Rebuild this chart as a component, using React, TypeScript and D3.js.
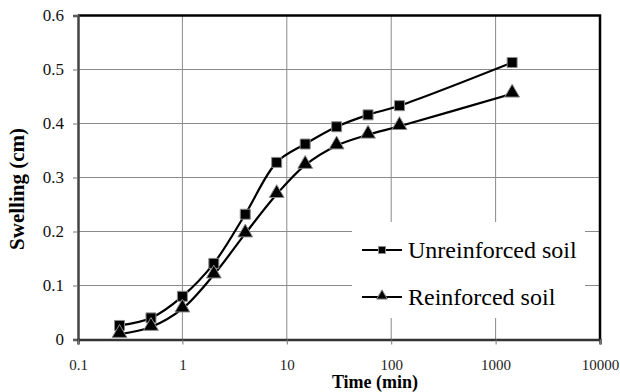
import React, { useEffect, useRef } from "react";
import * as d3 from "d3";

// time in minutes (log scale)
const times = [0.25, 0.5, 1, 2, 4, 8, 15, 30, 60, 120, 1440];
const unreinforced = [0.026, 0.04, 0.08, 0.141, 0.232, 0.328, 0.362, 0.394, 0.416, 0.433, 0.513];
const reinforced = [0.01, 0.023, 0.057, 0.12, 0.196, 0.269, 0.323, 0.359, 0.379, 0.395, 0.455];
const xTicks = [0.1, 1, 10, 100, 1000, 10000];
const yTicks = [0, 0.1, 0.2, 0.3, 0.4, 0.5, 0.6];
const seriesNames = ["Unreinforced soil", "Reinforced soil"];

const App = () => {
  const svgRef = useRef<SVGSVGElement>(null);

  useEffect(() => {
    const width = 620;
    const height = 392;
    const margin = { top: 15.5, right: 20, bottom: 52.5, left: 78 };
    const serif = "Liberation Serif, DejaVu Serif, Times New Roman, serif";

    const svg = d3.select(svgRef.current);
    svg.selectAll("*").remove();

    const x = d3
      .scaleLog()
      .domain([0.1, 10000])
      .range([margin.left, width - margin.right]);
    const y = d3
      .scaleLinear()
      .domain([0, 0.6])
      .range([height - margin.bottom, margin.top]);

    const x0 = margin.left;
    const x1 = width - margin.right;
    const y0 = height - margin.bottom;
    const y1 = margin.top;

    // gridlines
    svg
      .append("g")
      .selectAll("line")
      .data(yTicks.slice(1, -1))
      .enter()
      .append("line")
      .attr("x1", x0)
      .attr("x2", x1)
      .attr("y1", (d) => y(d))
      .attr("y2", (d) => y(d))
      .attr("stroke", "#8a8a8a")
      .attr("stroke-width", 1);
    svg
      .append("g")
      .selectAll("line")
      .data(xTicks.slice(1, -1))
      .enter()
      .append("line")
      .attr("x1", (d) => x(d))
      .attr("x2", (d) => x(d))
      .attr("y1", y1)
      .attr("y2", y0)
      .attr("stroke", "#8a8a8a")
      .attr("stroke-width", 1);

    // legend background (hides gridlines)
    svg
      .append("rect")
      .attr("x", 352)
      .attr("y", 222)
      .attr("width", 233)
      .attr("height", 96)
      .attr("fill", "white");

    // plot border top/right
    svg
      .append("path")
      .attr("d", `M${x0},${y1}H${x1}V${y0}`)
      .attr("fill", "none")
      .attr("stroke", "#000")
      .attr("stroke-width", 2.5);

    // y axis
    const yAxis = svg
      .append("g")
      .attr("transform", `translate(${x0},0)`)
      .call(d3.axisLeft(y).tickValues(yTicks).tickSize(5).tickPadding(9).tickFormat(d3.format("")));
    yAxis.select(".domain").attr("stroke", "#444").attr("stroke-width", 2.5);
    yAxis.selectAll(".tick line").attr("stroke", "#777");
    yAxis
      .selectAll("text")
      .style("font-family", serif)
      .style("font-size", "17px")
      .attr("fill", "#111");

    // x axis
    const xAxis = svg
      .append("g")
      .attr("transform", `translate(0,${y0})`)
      .call(
        d3
          .axisBottom(x)
          .tickValues(xTicks)
          .tickSize(5)
          .tickPadding(15)
          .tickFormat((d) => String(d))
      );
    xAxis.select(".domain").attr("stroke", "#333").attr("stroke-width", 2.5);
    xAxis.selectAll(".tick line").attr("stroke", "#777");
    xAxis
      .selectAll("text")
      .style("font-family", serif)
      .style("font-size", "15px")
      .attr("fill", "#222");

    // axis titles
    svg
      .append("text")
      .attr("x", 375)
      .attr("y", 388)
      .attr("text-anchor", "middle")
      .style("font-family", serif)
      .style("font-weight", "bold")
      .style("font-size", "18px")
      .text("Time (min)");
    svg
      .append("text")
      .attr("transform", `translate(24,189) rotate(-90)`)
      .attr("text-anchor", "middle")
      .style("font-family", serif)
      .style("font-weight", "bold")
      .style("font-size", "21px")
      .text("Swelling (cm)");

    // series lines
    const line = d3
      .line<number>()
      .x((d, i) => x(times[i]))
      .y((d) => y(d))
      .curve(d3.curveCatmullRom.alpha(0.5));

    const allSeries = [unreinforced, reinforced];
    allSeries.forEach((s) => {
      svg
        .append("path")
        .datum(s)
        .attr("fill", "none")
        .attr("stroke", "#000")
        .attr("stroke-width", 2.2)
        .attr("d", line);
    });

    const square = d3.symbol().type(d3.symbolSquare).size(100);
    const triangle = d3.symbol().type(d3.symbolTriangle).size(95);
    const symbols = [square, triangle];

    allSeries.forEach((s, si) => {
      svg
        .append("g")
        .selectAll("path")
        .data(s)
        .enter()
        .append("path")
        .attr("transform", (d, i) => `translate(${x(times[i])},${y(d) + (si === 1 ? -1 : 0)})`)
        .attr("d", symbols[si]())
        .attr("fill", "#000")
        .attr("stroke", "#8c8c8c")
        .attr("stroke-width", 1);
    });

    // legend
    const legendSquare = d3.symbol().type(d3.symbolSquare).size(49);
    const legendTriangle = d3.symbol().type(d3.symbolTriangle).size(50);
    const legendSymbols = [legendSquare, legendTriangle];
    seriesNames.forEach((name, i) => {
      const row = svg.append("g").attr("transform", `translate(362,${250 + i * 47})`);
      row
        .append("line")
        .attr("x1", 0)
        .attr("x2", 40)
        .attr("stroke", "#000")
        .attr("stroke-width", 2.2);
      row
        .append("path")
        .attr("transform", `translate(20,${i === 1 ? -1 : 0})`)
        .attr("d", legendSymbols[i]())
        .attr("fill", "#000")
        .attr("stroke", "#8c8c8c")
        .attr("stroke-width", 1);
      row
        .append("text")
        .attr("x", 46)
        .attr("y", 8)
        .style("font-family", serif)
        .style("font-size", "24px")
        .attr("fill", "#000")
        .text(name);
    });
  }, []);

  return (
    <div>
      <svg
        ref={svgRef}
        width={620}
        height={392}
        style={{ position: "absolute", left: 0, top: 0, background: "#fff" }}
      ></svg>
    </div>
  );
};

export default App;
